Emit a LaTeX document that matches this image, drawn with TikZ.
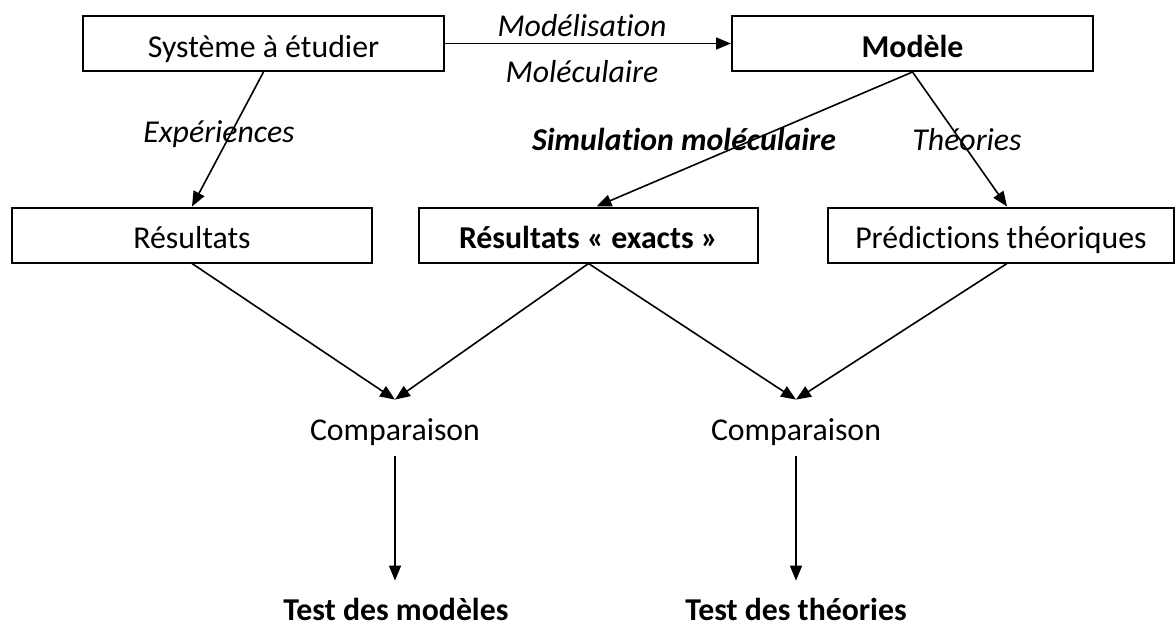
\documentclass[tikz,border=0pt]{standalone}
\usepackage{fontspec}
\setmainfont{Carlito}[Ligatures={NoCommon}]
\usetikzlibrary{arrows.meta}
\begin{document}
\begin{tikzpicture}[x=0.5pt,y=-0.5pt,
  every node/.style={font=\fontsize{15.9}{19}\selectfont},
  box/.style={draw,line width=1pt,minimum height=27.5pt,inner sep=0pt,anchor=center,
    text height=15pt,text depth=1.2pt},
  cmp/.style={inner sep=0pt,anchor=center,minimum height=28pt,text height=14pt,text depth=2pt},
  tst/.style={inner sep=0pt,anchor=base,text height=19.5pt,text depth=0pt,
    font=\fontsize{15.9}{19}\selectfont\bfseries},
  conn/.style={line width=0.8pt,-{Triangle[length=7.5pt,width=6pt]}},
  lab/.style={inner sep=0pt,anchor=base,font=\fontsize{15.9}{19}\selectfont\itshape}]
\useasboundingbox (0,0) rectangle (1176,626);
% boxes
\node[box,minimum width=180.5pt] (sys) at (263.5,43.5) {Système à étudier};
\node[box,minimum width=180.5pt] (mod) at (912.5,43.5) {\bfseries Modèle};
\node[box,minimum width=180pt] (res) at (192,235) {Résultats};
\node[box,minimum width=169.5pt] (exa) at (588.5,235) {\bfseries Résultats « exacts »};
\node[box,minimum width=173pt] (pred) at (1001,235) {Prédictions théoriques};
% comparisons
\node[cmp] (c1) at (395,428) {Comparaison};
\node[cmp] (c2) at (796,428) {Comparaison};
\node[tst] (t1) at (396,620) {Test des modèles};
\node[tst] (t2) at (796,620) {Test des théories};
% labels
\node[lab] (lmod) at (582,37) {Modélisation};
\node[lab] (lmol) at (582,83) {Moléculaire};
\node[lab] (lexp) at (219,142) {Expériences};
\node[lab,font=\fontsize{15.9}{19}\selectfont\bfseries\itshape] (lsim) at (684,150) {Simulation moléculaire};
\node[lab] (lthe) at (967,150) {Théories};
% connectors
\draw[conn] (sys.east) -- (mod.west);
\draw[conn] (sys.south) -- (res.north);
\draw[conn] (mod.south) -- ([xshift=4pt]exa.north);
\draw[conn] (mod.south) -- ([xshift=3pt]pred.north);
\draw[conn] (res.south) -- (c1.north);
\draw[conn] (exa.south) -- (c1.north);
\draw[conn] (exa.south) -- (c2.north);
\draw[conn] ([xshift=3pt]pred.south) -- (c2.north);
\draw[conn] (c1.south) -- (c1.south |- t1.north);
\draw[conn] (c2.south) -- (c2.south |- t2.north);
\end{tikzpicture}
\end{document}
